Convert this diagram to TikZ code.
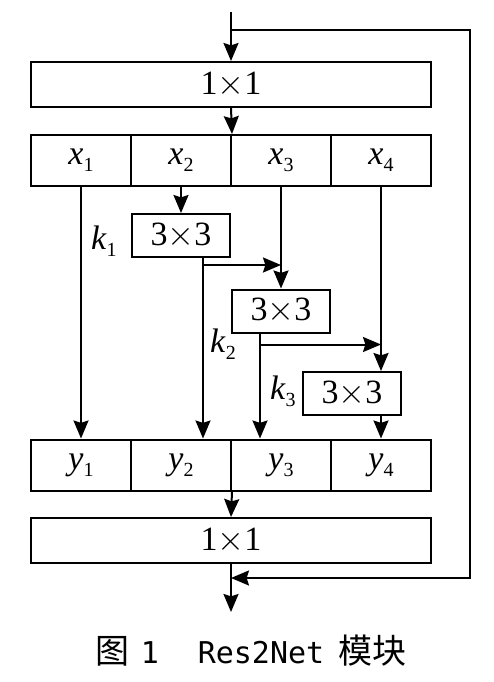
\documentclass[tikz,border=0pt]{standalone}
\usepackage{fontspec}
\setmainfont{Liberation Serif}
\newfontfamily\cjk{Noto Sans CJK SC}
\newfontfamily\mono{DejaVu Sans Mono}
\usetikzlibrary{positioning,arrows.meta}
\newcommand{\sublab}[2]{\textit{#1}\raisebox{-3.5pt}{\fontsize{10}{10}\selectfont #2}}

\begin{document}
\begin{tikzpicture}[
    x=0.5pt, y=-0.5pt,
    >={Stealth[length=9pt,width=7.5pt,inset=1.2pt]},
    wide/.style={draw, line width=1pt, minimum width=200pt, minimum height=22.5pt, inner sep=0pt, font=\fontsize{17}{17}\selectfont},
    cell/.style={draw, line width=1pt, minimum width=50pt, minimum height=25.5pt, inner sep=0pt, font=\fontsize{17}{17}\selectfont},
    conv/.style={draw, line width=1pt, minimum width=49pt, minimum height=21.5pt, inner sep=0pt, font=\fontsize{17}{17}\selectfont},
    arr/.style={->, line width=1pt},
    klab/.style={inner sep=0pt, font=\fontsize{17}{17}\selectfont}
]
    \useasboundingbox (0,0) rectangle (494,682);

    % 1x1 blocks
    \node[wide] (top) at (231,84.5) {1$\times$1};
    \node[wide] (bot) at (231,540.5) {1$\times$1};

    % Split and merged feature cells
    \foreach \i/\cx in {1/81,2/181,3/281,4/381} {
        \node[cell] (x\i) at (\cx,160.5) {\sublab{x}{\i}};
        \node[cell] (y\i) at (\cx,465) {\sublab{y}{\i}};
    }

    % 3x3 convolutions
    \node[conv] (k1) at (181,235.5) {3$\times$3};
    \node[conv] (k2) at (281,311) {3$\times$3};
    \node[conv] (k3) at (352,393.5) {3$\times$3};

    % Path points
    \coordinate (in) at (231,12);
    \coordinate (split) at (231,30);
    \coordinate (rt) at (470,30);
    \coordinate (ret) at (231,578);
    \coordinate (out) at (231,612);
    \coordinate (k1o) at ([xshift=11pt]k1.south);
    \coordinate (k2o) at ([xshift=-10.5pt]k2.south);
    \path (k1o) ++(0,7) coordinate (j1);
    \path (k2o) ++(0,11) coordinate (j2);

    % === EDGES ===

    % Input and shortcut
    \draw[arr] (in) -- (top.north);
    \draw[arr] (split) -- (rt) |- (ret);
    \draw[arr] (top.south) -- (x2.north east);

    % Hierarchical branches
    \draw[arr] (x1.south) -- (y1.north);
    \draw[arr] (x2.south) -- (k1.north);
    \draw[arr] (k1o) -- (k1o |- y2.north);
    \draw[arr] (j1) -- (j1 -| x3.south);
    \draw[arr] (x3.south) -- (k2.north);
    \draw[arr] (k2o) -- (k2o |- y3.north);
    \draw[arr] (j2) -- (j2 -| x4.south);
    \draw[arr] (x4.south) -- (x4.south |- k3.north);
    \draw[arr] (x4.south |- k3.south) -- (y4.north);

    % Output
    \draw[arr] (y2.south east) -- (bot.north);
    \draw[arr] (bot.south) -- (out);

    % Labels
    \node[klab, left=7pt of k1, yshift=-3pt] (l1) {\sublab{k}{1}};
    \node[klab] (l2) at (223,344) {\sublab{k}{2}};
    \node[klab, left=3pt of k3, yshift=1pt] (l3) {\sublab{k}{3}};

    % Caption
    \node[inner sep=0pt] (cap) at (251,651) {\fontsize{17}{19}\selectfont\cjk 图\hspace{5.5pt}{\mono\fontsize{15}{18}\selectfont 1\hspace{19.5pt}Res2Net}\hspace{7pt}模块};
\end{tikzpicture}
\end{document}
